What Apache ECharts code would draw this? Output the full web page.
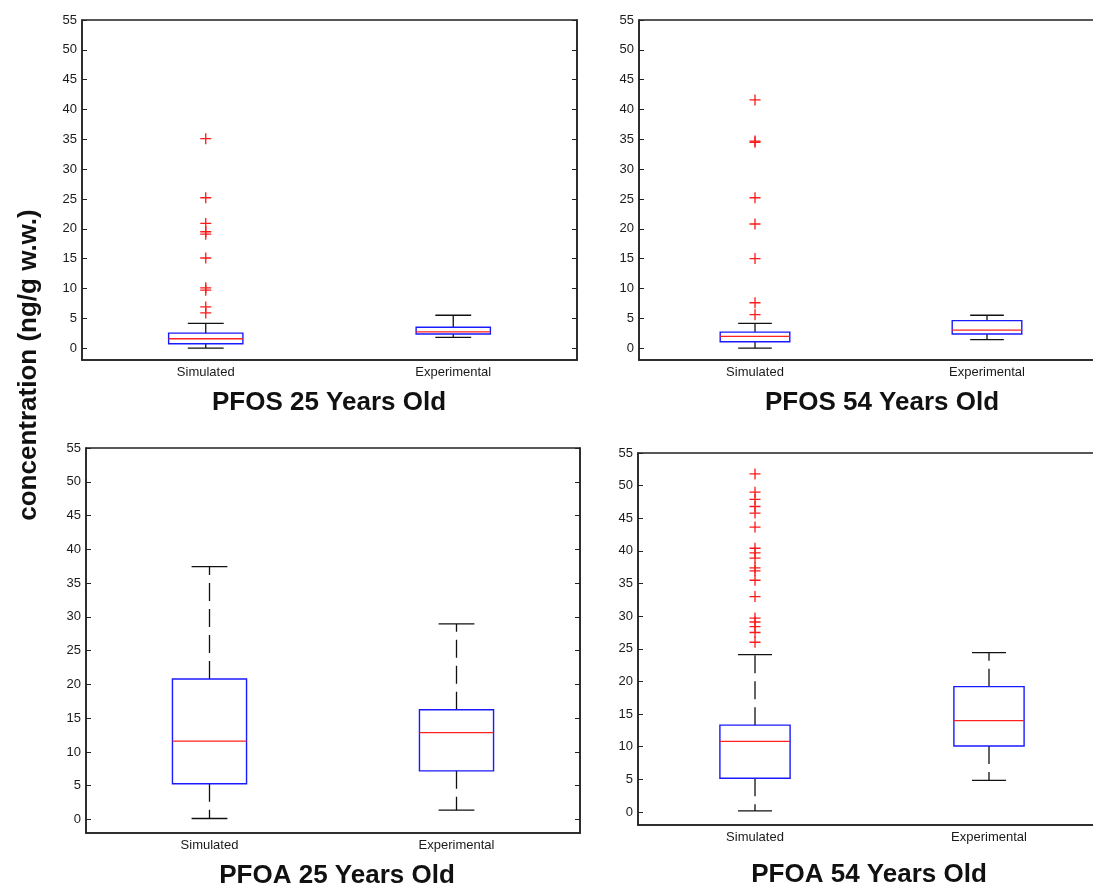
<!DOCTYPE html>
<html>
<head>
<meta charset="utf-8">
<script src="https://cdn.jsdelivr.net/npm/echarts@6/dist/echarts.min.js"></script>
<style>
  html, body { margin: 0; padding: 0; background: #fff; }
  #main { width: 1093px; height: 888px; }
</style>
</head>
<body>
<div id="main"></div>
<script>
var categories = ['Simulated', 'Experimental'];
var yTicks = [0, 5, 10, 15, 20, 25, 30, 35, 40, 45, 50, 55];

// [lower whisker, Q1, median, Q3, upper whisker]
var pfos25Sim = [0, 0.73, 1.56, 2.5, 4.13];
var pfos25Exp = [1.8, 2.35, 2.7, 3.5, 5.5];
var pfos25Out = [35.1, 25.2, 20.9, 19.5, 19.1, 15.1, 10.1, 9.7, 6.9, 5.9];

var pfos54Sim = [0, 1.06, 1.96, 2.68, 4.13];
var pfos54Exp = [1.4, 2.35, 3.0, 4.6, 5.5];
var pfos54Out = [41.6, 34.7, 34.5, 25.2, 20.8, 15.0, 7.6, 5.6];

var pfoa25Sim = [0.15, 5.3, 11.6, 20.8, 37.45];
var pfoa25Exp = [1.38, 7.2, 12.85, 16.25, 28.95];
var pfoa25Out = [];

var pfoa54Sim = [0.15, 5.16, 10.8, 13.3, 24.1];
var pfoa54Exp = [4.85, 10.1, 14.0, 19.2, 24.4];
var pfoa54Out = [51.8, 49.0, 47.9, 46.8, 45.8, 43.65, 40.4, 39.7, 38.9, 37.4, 36.95, 35.5, 33.0, 29.7, 29.1, 28.4, 27.5, 26.0];

var titles = ['PFOS 25 Years Old', 'PFOS 54 Years Old', 'PFOA 25 Years Old', 'PFOA 54 Years Old'];

var panels = [
    {sim: pfos25Sim, exp: pfos25Exp, out: pfos25Out, grid: {left: 82, top: 20, width: 495, height: 340}, tx: 324, ty: 400},
    {sim: pfos54Sim, exp: pfos54Exp, out: pfos54Out, grid: {left: 639, top: 20, width: 464, height: 340}, tx: 877, ty: 400},
    {sim: pfoa25Sim, exp: pfoa25Exp, out: pfoa25Out, grid: {left: 86, top: 448, width: 494, height: 385}, tx: 332, ty: 873},
    {sim: pfoa54Sim, exp: pfoa54Exp, out: pfoa54Out, grid: {left: 638, top: 453, width: 468, height: 372}, tx: 864, ty: 872}
];

var font = '"Liberation Sans", Arial, sans-serif';
var frameColor = '#222';

function renderBox(params, api) {
    var cat = api.value(0);
    var band = api.size([1, 0])[0];
    var xc = api.coord([cat, 0])[0];
    var bw = band * 0.3;
    var cw = band * 0.145;
    function y(i) { return api.coord([cat, api.value(i)])[1]; }
    var lo = y(1), q1 = y(2), med = y(3), q3 = y(4), hi = y(5);
    var dash = {stroke: '#111', lineWidth: 1.3, lineDash: [18, 8]};
    var solid = {stroke: '#111', lineWidth: 1.3};
    return {
        type: 'group',
        children: [
            {type: 'line', shape: {x1: xc, y1: q3, x2: xc, y2: hi}, style: dash},
            {type: 'line', shape: {x1: xc, y1: q1, x2: xc, y2: lo}, style: dash},
            {type: 'line', shape: {x1: xc - cw / 2, y1: hi, x2: xc + cw / 2, y2: hi}, style: solid},
            {type: 'line', shape: {x1: xc - cw / 2, y1: lo, x2: xc + cw / 2, y2: lo}, style: solid},
            {type: 'rect', shape: {x: xc - bw / 2, y: q3, width: bw, height: q1 - q3},
                style: {stroke: '#1a1aff', lineWidth: 1.4, fill: 'none'}},
            {type: 'line', shape: {x1: xc - bw / 2, y1: med, x2: xc + bw / 2, y2: med},
                style: {stroke: '#ff2020', lineWidth: 1.3}}
        ]
    };
}

var grids = [], xAxes = [], yAxes = [], series = [], titleList = [];

panels.forEach(function (p, i) {
    grids.push(Object.assign({
        show: true,
        borderColor: frameColor,
        borderWidth: 1.5,
        containLabel: false,
        outerBoundsMode: 'none'
    }, p.grid));

    xAxes.push({
        type: 'category',
        gridIndex: i,
        data: categories,
        boundaryGap: true,
        axisLine: {onZero: false, lineStyle: {color: frameColor, width: 1.5}},
        axisTick: {show: false},
        axisLabel: {color: '#1a1a1a', fontSize: 13, fontFamily: font, margin: 6}
    });

    var tickStyle = {show: true, inside: true, length: 5, lineStyle: {color: frameColor, width: 1}, customValues: yTicks};
    yAxes.push({
        type: 'value',
        gridIndex: i,
        min: -2,
        max: 55,
        position: 'left',
        splitLine: {show: false},
        axisLine: {show: true, onZero: false, lineStyle: {color: frameColor, width: 1.5}},
        axisTick: tickStyle,
        axisLabel: {color: '#1a1a1a', fontSize: 13, fontFamily: font, margin: 5, customValues: yTicks}
    });
    yAxes.push({
        type: 'value',
        gridIndex: i,
        min: -2,
        max: 55,
        position: 'right',
        splitLine: {show: false},
        axisLine: {show: true, onZero: false, lineStyle: {color: frameColor, width: 1.5}},
        axisTick: tickStyle,
        axisLabel: {show: false}
    });

    series.push({
        type: 'custom',
        xAxisIndex: i,
        yAxisIndex: i * 2,
        renderItem: renderBox,
        encode: {x: 0, y: [1, 2, 3, 4, 5]},
        data: [[0].concat(p.sim), [1].concat(p.exp)],
        silent: true
    });

    series.push({
        type: 'scatter',
        xAxisIndex: i,
        yAxisIndex: i * 2,
        symbol: 'path://M4.4,0H5.6V4.4H10V5.6H5.6V10H4.4V5.6H0V4.4H4.4Z',
        symbolSize: 11,
        itemStyle: {color: '#ff1a1a', opacity: 1},
        data: p.out.map(function (v) { return [0, v]; }),
        silent: true
    });

    titleList.push({
        text: titles[i],
        left: p.tx,
        top: p.ty - 15,
        textAlign: 'center',
        textStyle: {fontFamily: font, fontWeight: 'bold', fontSize: 26, color: '#111'}
    });
});

var chart = echarts.init(document.getElementById('main'));
chart.setOption({
    animation: false,
    backgroundColor: '#fff',
    title: titleList,
    grid: grids,
    xAxis: xAxes,
    yAxis: yAxes,
    series: series,
    graphic: [{
        type: 'text',
        x: 29,
        y: 365,
        rotation: Math.PI / 2,
        style: {
            text: 'concentration (ng/g w.w.)',
            font: 'bold 26px "Liberation Sans", Arial, sans-serif',
            fill: '#111',
            textAlign: 'center',
            textVerticalAlign: 'middle'
        }
    }]
});
</script>
</body>
</html>
